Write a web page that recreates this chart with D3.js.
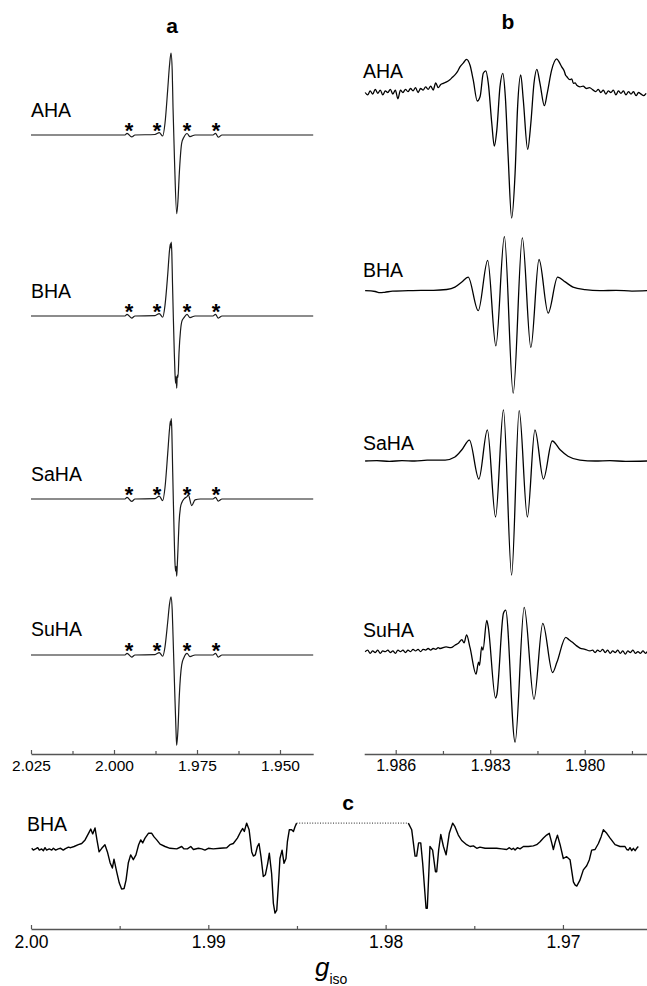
<!DOCTYPE html>
<html><head><meta charset="utf-8">
<script src="https://cdn.jsdelivr.net/npm/d3@7"></script>
<style>
body{margin:0;background:#fff}
svg{display:block}
text{font-family:"Liberation Sans",Arial,Helvetica,sans-serif;fill:#000}
</style></head>
<body><svg id="chart" width="647" height="986"></svg>
<script>
// ---------------- DATA ----------------
const aTicksMajor = [2.025, 2.000, 1.975, 1.950];
const aTicksMinor = [2.0125, 1.9875, 1.9625];
const bTicksMajor = [1.986, 1.983, 1.980];
const bTicksMinor = [1.9845, 1.9815, 1.9785];
const cTicksMajor = [2.00, 1.99, 1.98, 1.97];
const cTicksMinor = [1.995, 1.985, 1.975];
const samples = ["AHA", "BHA", "SaHA", "SuHA"];
const asteriskG = [1.99548, 1.98705, 1.97801, 1.96928];

// panel a spectra [g, intensity a.u.]
const aAHA = [[2.025,0],[1.99669,0],[1.99608,0.02],[1.99467,-0.024],[1.99367,0],[1.98765,0.006],[1.98636,0.028],[1.98533,-0.012],[1.98464,0.143],[1.98383,0.55],[1.98328,0.85],[1.98283,1.0],[1.98247,0.79],[1.98223,0.345],[1.98178,-0.30],[1.98111,-0.96],[1.98072,-0.79],[1.98033,-0.47],[1.97961,-0.10],[1.97892,-0.024],[1.97801,0.018],[1.97711,-0.02],[1.97560,0],[1.97018,0],[1.96943,0.02],[1.96858,-0.027],[1.96747,0],[1.940,0]];
const aBHA = [[2.025,0],[1.99669,0],[1.99608,0.02],[1.99467,-0.025],[1.99367,0],[1.98765,0.005],[1.98636,0.03],[1.98533,-0.015],[1.98464,0.13],[1.98383,0.5],[1.98328,0.8],[1.98301,0.88],[1.98286,0.83],[1.98274,0.9],[1.98259,0.78],[1.98238,0.4],[1.98214,0.0],[1.98187,-0.4],[1.98163,-0.7],[1.98145,-0.82],[1.98130,-0.74],[1.98111,-0.88],[1.98093,-0.72],[1.98072,-0.75],[1.98042,-0.45],[1.97997,-0.18],[1.97952,-0.06],[1.97892,-0.02],[1.97801,0.02],[1.97711,-0.02],[1.97560,0],[1.97018,0],[1.96943,0.02],[1.96858,-0.025],[1.96747,0],[1.940,0]];
const aSaHA = [[2.025,0],[1.99669,0],[1.99608,0.02],[1.99467,-0.03],[1.99367,0],[1.98765,0.005],[1.98636,0.035],[1.98533,-0.02],[1.98464,0.14],[1.98383,0.55],[1.98328,0.85],[1.98301,0.95],[1.98286,0.9],[1.98274,0.98],[1.98259,0.85],[1.98238,0.45],[1.98214,0.0],[1.98187,-0.45],[1.98163,-0.78],[1.98145,-0.88],[1.98130,-0.82],[1.98111,-0.94],[1.98093,-0.8],[1.98072,-0.6],[1.98042,-0.3],[1.97997,-0.1],[1.97952,-0.04],[1.97892,0.0],[1.97801,0.03],[1.97762,0.05],[1.97660,-0.08],[1.97560,-0.01],[1.97400,0],[1.97018,0],[1.96943,0.02],[1.96858,-0.025],[1.96747,0],[1.940,0]];
const aSuHA = [[2.025,0],[1.99669,0],[1.99608,0.02],[1.99467,-0.025],[1.99367,0],[1.98765,0.005],[1.98636,0.03],[1.98533,-0.015],[1.98464,0.1],[1.98383,0.4],[1.98328,0.62],[1.98283,0.71],[1.98247,0.55],[1.98223,0.25],[1.98178,-0.35],[1.98130,-0.95],[1.98111,-1.10],[1.98072,-0.9],[1.98033,-0.5],[1.97961,-0.12],[1.97892,-0.03],[1.97801,0.02],[1.97711,-0.02],[1.97560,0],[1.97018,0],[1.96943,0.02],[1.96858,-0.025],[1.96747,0],[1.940,0]];

// panel b spectra
const bAHA = [[1.98697,0.00],[1.98689,-0.03],[1.98681,0.02],[1.98673,-0.02],[1.98665,0.04],[1.98657,-0.01],[1.98649,0.03],[1.98641,-0.03],[1.98633,0.02],[1.98625,0.00],[1.98617,0.04],[1.98609,-0.02],[1.98601,0.03],[1.98593,-0.08],[1.98585,0.03],[1.98577,0.00],[1.98569,0.04],[1.98561,0.01],[1.98553,0.05],[1.98545,0.02],[1.98537,0.06],[1.98529,0.00],[1.98521,0.05],[1.98513,0.03],[1.98505,0.07],[1.98497,0.04],[1.98489,0.08],[1.98481,0.03],[1.98473,0.12],[1.98465,0.06],[1.98457,0.10],
 [1.98449,0.115],[1.98440,0.13],[1.98428,0.16],[1.98420,0.19],[1.98412,0.22],[1.98404,0.26],[1.98396,0.32],[1.98385,0.37],[1.98375,0.415],[1.98364,0.34],[1.98354,0.16],[1.98341,-0.106],[1.98332,-0.05],[1.98322,0.24],[1.98314,0.27],[1.98306,0.115],[1.98295,-0.385],[1.98287,-0.67],[1.98279,-0.47],[1.98269,0.07],[1.98260,0.24],[1.98252,-0.05],[1.98243,-0.80],[1.98232,-1.57],[1.98221,-1.01],[1.98213,-0.18],[1.98203,0.22],[1.98195,-0.09],[1.98181,-0.71],[1.98171,-0.385],[1.98161,0.115],[1.98152,0.29],[1.98142,0.115],[1.98128,-0.165],[1.98119,-0.01],[1.98105,0.28],[1.98089,0.42],[1.98081,0.38],[1.98073,0.32],[1.98065,0.27],[1.98061,0.22],[1.98057,0.20],[1.98047,0.16],[1.98041,0.17],[1.98036,0.115],[1.98030,0.12],[1.98025,0.09],[1.98015,0.07],[1.98005,0.08],[1.97995,0.05],[1.97985,0.06],[1.97973,0.03],
 [1.97965,0.01],[1.97957,0.04],[1.97949,0.00],[1.97941,0.03],[1.97933,-0.02],[1.97925,0.02],[1.97917,0.00],[1.97909,0.03],[1.97901,-0.03],[1.97893,0.02],[1.97885,-0.01],[1.97877,0.02],[1.97869,-0.03],[1.97861,0.01],[1.97853,-0.02],[1.97845,0.01],[1.97837,-0.04],[1.97829,0.00],[1.97821,-0.02],[1.97813,-0.04],[1.97805,-0.01]];
const bBHA = [[1.98697,0],[1.98665,-0.01],[1.98650,-0.025],[1.98635,-0.02],[1.98610,-0.005],[1.98560,0],[1.98520,0.005],[1.98480,0.005],[1.98438,0.015],[1.98412,0.045],[1.98390,0.11],[1.98370,0.17],[1.98338,-0.25],[1.98308,0.38],[1.98282,-0.69],[1.98255,0.675],[1.98227,-1.28],[1.98198,0.66],[1.98171,-0.71],[1.98145,0.39],[1.98116,-0.28],[1.98086,0.17],[1.98062,0.11],[1.98037,0.045],[1.97999,0.013],[1.97951,0.0],[1.97900,0.005],[1.97850,-0.005],[1.97802,0]];
const bSaHA = [[1.98697,0],[1.98660,0.005],[1.98620,-0.005],[1.98580,0.005],[1.98540,0],[1.98500,0.01],[1.98443,0.012],[1.98412,0.05],[1.98390,0.14],[1.98366,0.26],[1.98336,-0.225],[1.98309,0.39],[1.98283,-0.70],[1.98258,0.64],[1.98232,-1.425],[1.98208,0.63],[1.98182,-0.70],[1.98158,0.39],[1.98131,-0.225],[1.98103,0.25],[1.98078,0.14],[1.98053,0.06],[1.98015,0.012],[1.97967,0],[1.97920,0.005],[1.97870,-0.005],[1.97802,0]];
const bSuHA = [[1.98697,0.00],[1.98689,0.02],[1.98681,-0.02],[1.98673,0.01],[1.98665,-0.01],[1.98657,0.02],[1.98649,-0.02],[1.98641,0.01],[1.98633,0.00],[1.98625,0.02],[1.98617,-0.01],[1.98609,0.01],[1.98601,-0.02],[1.98593,0.02],[1.98585,0.00],[1.98577,0.02],[1.98569,-0.01],[1.98561,0.02],[1.98553,0.00],[1.98545,0.03],[1.98537,0.01],[1.98529,0.03],[1.98521,0.00],[1.98513,0.03],[1.98505,0.02],[1.98497,0.04],[1.98489,0.02],[1.98481,0.04],[1.98473,0.03],[1.98465,0.05],[1.98459,0.04],
 [1.98440,0.06],[1.98425,0.05],[1.98412,0.08],[1.98400,0.11],[1.98390,0.15],[1.98383,0.11],[1.98375,0.21],[1.98364,0.05],[1.98345,-0.28],[1.98337,-0.13],[1.98334,-0.17],[1.98327,0.06],[1.98323,0.02],[1.98311,0.39],[1.98307,0.33],[1.98283,-0.58],[1.98279,-0.54],[1.98258,0.48],[1.98251,0.52],[1.98221,-1.13],[1.98192,0.555],[1.98161,-0.595],[1.98133,0.355],[1.98102,-0.26],[1.98088,-0.13],[1.98060,0.18],[1.98050,0.15],[1.98040,0.12],[1.98028,0.08],[1.98015,0.045],[1.97999,0.03],[1.97983,0.01],
 [1.97975,0.02],[1.97967,-0.01],[1.97959,0.02],[1.97951,0.00],[1.97943,0.03],[1.97935,-0.01],[1.97927,0.02],[1.97919,-0.02],[1.97911,0.01],[1.97903,-0.01],[1.97895,0.02],[1.97887,-0.02],[1.97879,0.01],[1.97871,-0.03],[1.97863,0.01],[1.97855,-0.01],[1.97847,0.02],[1.97839,-0.02],[1.97831,0.00],[1.97823,-0.02],[1.97815,0.01],[1.97807,-0.02],[1.97802,0.00]];

// panel c: BHA wide scan, two segments joined by a dotted gap
const cBHALeft = [[1.99996,0],[1.99987,-0.03],[1.99974,-0.01],[1.99962,0.01],[1.99953,-0.03],[1.99940,-0.01],[1.99930,-0.04],[1.99921,0.01],[1.99912,-0.03],[1.99897,-0.01],[1.99883,-0.03],[1.99874,0.0],[1.99861,-0.03],[1.99846,-0.01],[1.99833,0.0],[1.99818,-0.03],[1.99808,-0.01],[1.99789,0.02],[1.99776,0.01],[1.99757,0.03],[1.99733,0.06],[1.99714,0.08],[1.99695,0.14],[1.99677,0.24],[1.99663,0.32],[1.99652,0.24],[1.99639,0.34],[1.99628,0.14],[1.99616,-0.06],[1.99601,0.0],[1.99583,0.06],[1.99569,-0.06],[1.99554,-0.24],[1.99541,-0.33],[1.99532,-0.18],[1.99517,-0.39],[1.99502,-0.58],[1.99489,-0.68],[1.99475,-0.67],[1.99464,-0.53],[1.99451,-0.24],[1.99438,-0.11],[1.99423,-0.19],[1.99408,-0.11],[1.99393,0.06],[1.99381,0.14],[1.99370,0.09],[1.99357,0.17],[1.99338,0.25],[1.99319,0.25],[1.99306,0.19],[1.99291,0.14],[1.99272,0.07],[1.99244,0.03],[1.99216,0.0],[1.99178,-0.01],[1.99150,0.03],[1.99137,-0.01],[1.99118,-0.01],[1.99099,0.03],[1.99084,-0.02],[1.99056,0.0],[1.99037,-0.01],[1.99019,-0.03],[1.99000,0.0],[1.98972,-0.01],[1.98934,0.0],[1.98896,0.01],[1.98878,0.06],[1.98859,0.08],[1.98836,0.17],[1.98817,0.28],[1.98806,0.33],[1.98797,0.28],[1.98784,0.42],[1.98770,0.31],[1.98755,-0.06],[1.98746,-0.13],[1.98735,-0.11],[1.98723,0.03],[1.98714,0.08],[1.98703,-0.14],[1.98690,-0.47],[1.98678,-0.44],[1.98665,-0.25],[1.98656,-0.08],[1.98643,-0.42],[1.98633,-0.92],[1.98624,-1.08],[1.98614,-1.03],[1.98603,-0.53],[1.98596,-0.17],[1.98584,-0.03],[1.98573,-0.25],[1.98562,-0.17],[1.98554,0.11],[1.98543,0.31],[1.98530,0.31],[1.98520,0.28],[1.98511,0.36],[1.98502,0.42]];
const cBHARight = [[1.97872,0.42],[1.97853,0.31],[1.97834,-0.13],[1.97825,-0.13],[1.97814,0.09],[1.97802,0.09],[1.97791,-0.25],[1.97772,-1.0],[1.97765,-1.0],[1.97750,0.03],[1.97735,-0.03],[1.97719,-0.39],[1.97712,-0.39],[1.97701,-0.03],[1.97689,0.23],[1.97674,0.03],[1.97659,-0.11],[1.97641,0.25],[1.97622,0.42],[1.97609,0.36],[1.97590,0.22],[1.97571,0.13],[1.97543,0.06],[1.97524,0.03],[1.97505,0.04],[1.97486,0.0],[1.97468,0.02],[1.97439,0.0],[1.97411,0.0],[1.97374,0.0],[1.97345,-0.01],[1.97317,-0.02],[1.97302,0.01],[1.97289,-0.02],[1.97280,0.0],[1.97270,-0.03],[1.97257,0.01],[1.97242,-0.01],[1.97223,0.03],[1.97195,0.03],[1.97167,0.04],[1.97148,0.06],[1.97129,0.11],[1.97110,0.17],[1.97092,0.22],[1.97077,0.25],[1.97065,0.11],[1.97054,-0.02],[1.97043,0.11],[1.97031,0.22],[1.97016,0.06],[1.96998,-0.17],[1.96979,-0.14],[1.96960,-0.19],[1.96941,-0.56],[1.96932,-0.61],[1.96922,-0.63],[1.96904,-0.53],[1.96885,-0.36],[1.96866,-0.29],[1.96851,-0.19],[1.96838,-0.03],[1.96819,-0.02],[1.96800,0.08],[1.96785,0.19],[1.96772,0.31],[1.96753,0.25],[1.96734,0.17],[1.96706,0.06],[1.96678,0.03],[1.96650,0.03],[1.96640,-0.02],[1.96631,-0.03],[1.96622,0.01],[1.96612,-0.04],[1.96603,0.0],[1.96593,-0.04],[1.96584,0.0],[1.96575,0.03]];
const cGap = [[1.98502,0.42],[1.97872,0.42]];

// ---------------- DRAW ----------------
const svg = d3.select("#chart");
const FONT = '"Liberation Sans",Arial,Helvetica,sans-serif';

const xA = d3.scaleLinear().domain([2.025, 1.940]).range([31, 313.2]);
const xB = d3.scaleLinear().domain([1.987, 1.978]).range([364.2, 647.7]);
const xC = d3.scaleLinear().domain([2.00, 1.965]).range([31, 651.6]);

const rowsA = [
  {name: samples[0], data: aAHA,  base: 135, labelY: 117},
  {name: samples[1], data: aBHA,  base: 316, labelY: 298},
  {name: samples[2], data: aSaHA, base: 499, labelY: 481},
  {name: samples[3], data: aSuHA, base: 655, labelY: 636}
];
const rowsB = [
  {name: samples[0], data: bAHA,  base: 92.5,  labelY: 77.5},
  {name: samples[1], data: bBHA,  base: 290.7, labelY: 277},
  {name: samples[2], data: bSaHA, base: 461,   labelY: 450},
  {name: samples[3], data: bSuHA, base: 651.7, labelY: 637}
];

function drawRow(x, row, H, stroke, width, curve) {
  const y = d3.scaleLinear().domain([0, 1]).range([row.base, row.base - H]);
  const line = d3.line().x(d => x(d[0])).y(d => y(d[1])).curve(curve);
  svg.append("path").datum(row.data).attr("d", line)
    .attr("fill", "none").attr("stroke", stroke).attr("stroke-width", width)
    .attr("stroke-linejoin", "round");
  return y;
}

// panel a
rowsA.forEach(r => {
  drawRow(xA, r, 82, "#1a1a1a", 1.2, d3.curveMonotoneX);
  svg.append("text").attr("x", 31).attr("y", r.labelY).attr("font-size", 19.5).text(r.name);
  svg.selectAll(null).data(asteriskG).enter().append("text")
    .attr("x", d => xA(d)).attr("y", r.base + 3).attr("text-anchor", "middle")
    .attr("font-size", 22).attr("font-weight", "bold").text("*");
});
// panel b
rowsB.forEach(r => {
  drawRow(xB, r, 80, "#000", 1.3, d3.curveMonotoneX);
  svg.append("text").attr("x", 363).attr("y", r.labelY).attr("font-size", 19.5).text(r.name);
});
// panel c
const cRow = {name: samples[1], data: cBHALeft, base: 848.3};
const yC = drawRow(xC, cRow, 60, "#000", 1.4, d3.curveLinear);
drawRow(xC, {data: cBHARight, base: 848.3}, 60, "#000", 1.4, d3.curveLinear);
svg.append("path").datum(cGap)
  .attr("d", d3.line().x(d => xC(d[0])).y(d => yC(d[1])))
  .attr("fill", "none").attr("stroke", "#222").attr("stroke-width", 1).attr("stroke-dasharray", "1,1.6");
svg.append("text").attr("x", 27).attr("y", 831).attr("font-size", 19.5).text(samples[1]);

// axes
function drawAxis(x, yPos, major, minor, fmt, fs, pad) {
  const g = svg.append("g").attr("transform", `translate(0,${yPos})`);
  g.call(d3.axisBottom(x).tickValues(major).tickFormat(d3.format(fmt))
      .tickSizeInner(-4).tickSizeOuter(0).tickPadding(pad));
  g.select(".domain").attr("stroke", "#555").attr("stroke-width", 1.6);
  g.selectAll(".tick line").attr("stroke", "#555").attr("stroke-width", 1.2);
  g.selectAll(".tick text").attr("font-size", fs).attr("font-family", FONT).attr("fill", "#222");
  const m = svg.append("g").attr("transform", `translate(0,${yPos})`);
  m.call(d3.axisBottom(x).tickValues(minor).tickFormat("").tickSizeInner(-3).tickSizeOuter(0));
  m.select(".domain").remove();
  m.selectAll(".tick line").attr("stroke", "#555").attr("stroke-width", 1.2);
}
drawAxis(xA, 754, aTicksMajor, aTicksMinor, ".3f", 15.5, 6);
drawAxis(xB, 754, bTicksMajor, bTicksMinor, ".3f", 16, 6);
drawAxis(xC, 929, cTicksMajor, cTicksMinor, ".2f", 17.5, 7);

// panel titles
svg.append("text").attr("x", 172).attr("y", 33).attr("text-anchor", "middle")
  .attr("font-size", 21).attr("font-weight", "bold").text("a");
svg.append("text").attr("x", 508).attr("y", 28.5).attr("text-anchor", "middle")
  .attr("font-size", 21).attr("font-weight", "bold").text("b");
svg.append("text").attr("x", 348).attr("y", 810).attr("text-anchor", "middle")
  .attr("font-size", 21).attr("font-weight", "bold").text("c");

// x-axis title g_iso
const xt = svg.append("text").attr("x", 315).attr("y", 976);
xt.append("tspan").attr("font-size", 26).attr("font-style", "italic").text("g");
xt.append("tspan").attr("font-size", 14).attr("dy", 8).text("iso");
</script>
</body></html>
